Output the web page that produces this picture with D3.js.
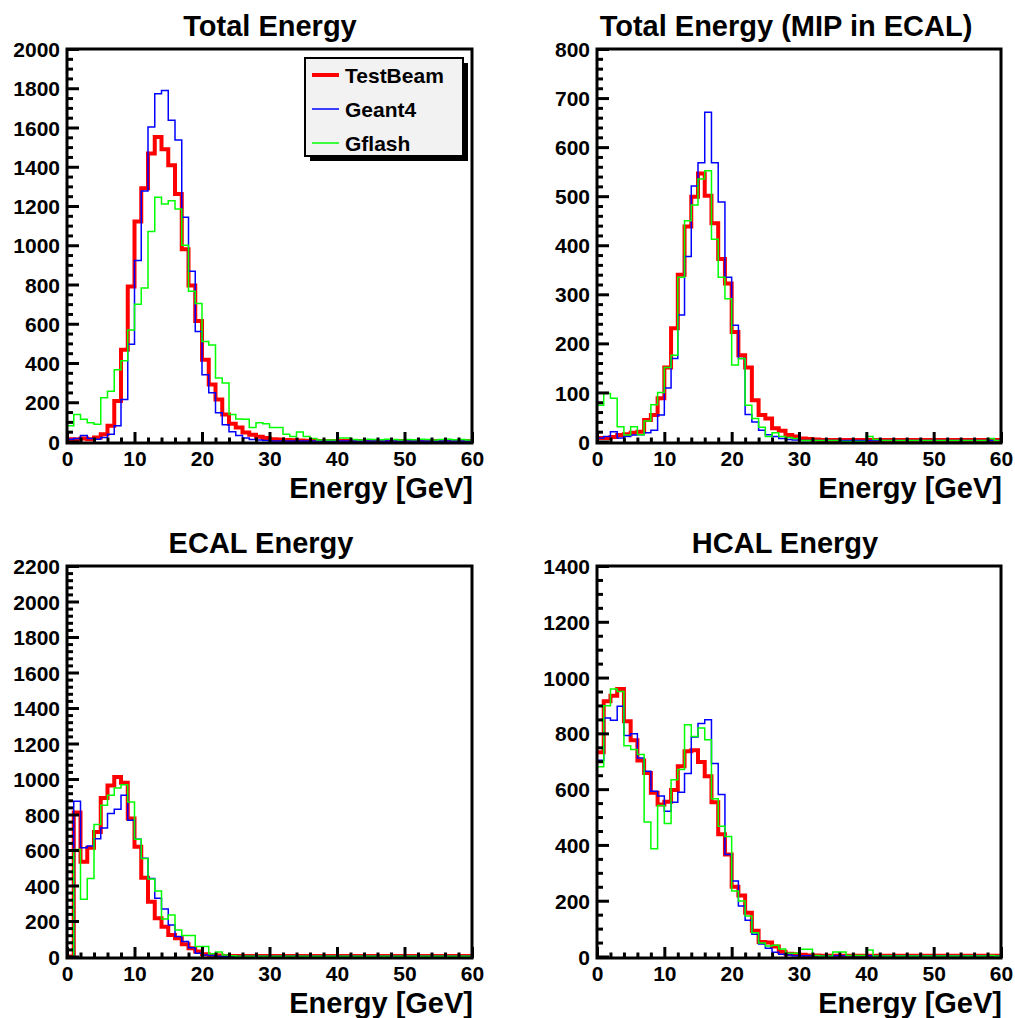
<!DOCTYPE html>
<html>
<head>
<meta charset="utf-8">
<script src="https://cdn.jsdelivr.net/npm/d3@7"></script>
<style>
  html, body { margin: 0; padding: 0; background: #fff; }
  svg text { font-family: "Liberation Sans", Arial, Helvetica, sans-serif; font-weight: bold; }
</style>
</head>
<body>
<svg id="chart" width="1015" height="1018"></svg>
<script>
// ---------- DATA (1 GeV bins, 0..60 GeV) ----------
const binEdges = d3.range(0, 61);
const seriesNames = ["TestBeam", "Geant4", "Gflash"];
const xTickLabels = [0, 10, 20, 30, 40, 50, 60];

const panelTitles = ["Total Energy", "Total Energy (MIP in ECAL)", "ECAL Energy", "HCAL Energy"];
const panelYMax = [2000, 800, 2200, 1400];
const panelYStep = [200, 100, 200, 200];
const panelYMinor = [50, 20, 40, 50];

// Panel 1: Total Energy
const testBeamTotal = [12,10,15,12,20,37,80,207,467,790,1121,1291,1468,1551,1489,1408,1261,979,795,614,417,290,214,138,90,71,46,34,24,18,12,10,8,6,5,4,4,3,3,3,3,3,3,3,3,3,3,3,3,3,3,3,3,3,3,3,3,3,3,3];
const geant4Total   = [12,15,30,15,12,20,37,80,214,495,922,1277,1603,1772,1789,1637,1536,1143,868,560,340,248,146,85,50,30,18,10,8,5,3,3,2,2,2,2,2,2,2,2,2,2,2,2,2,2,2,2,2,2,2,2,2,2,2,2,2,2,2,2];
const gflashTotal   = [80,137,113,96,88,223,256,366,411,568,700,782,1070,1244,1210,1227,1185,1000,766,703,509,492,324,298,138,115,113,71,96,90,71,71,37,25,49,25,15,8,8,8,18,18,10,8,12,10,9,11,10,8,10,9,12,10,8,10,11,9,10,8];

// Panel 2: Total Energy (MIP in ECAL)
const testBeamMip = [7,7,9,13,15,18,20,44,54,88,151,231,340,438,499,546,501,445,372,322,223,176,151,84,54,47,27,22,13,10,6,5,4,3,3,3,3,3,3,3,3,3,3,3,3,3,3,3,3,3,3,3,3,3,3,3,3,3,3,3];
const geant4Mip   = [7,10,20,7,10,13,14,18,23,54,109,169,258,377,521,568,671,568,488,335,237,169,55,40,23,14,10,6,4,3,2,2,2,2,2,2,2,2,2,2,2,2,2,2,2,2,2,2,2,2,2,2,2,2,2,2,2,2,2,2];
const gflashMip   = [74,98,88,30,13,30,14,42,75,100,151,176,335,450,482,535,552,412,335,291,156,169,74,47,29,10,18,10,8,6,2,2,2,2,2,2,0,0,0,0,10,4,2,2,2,2,2,2,2,2,2,2,2,2,2,2,2,2,6,2];

// Panel 3: ECAL Energy
const testBeamEcal = [0,811,534,612,702,893,964,1011,979,777,618,444,309,215,168,121,103,69,47,28,13,8,5,3,3,3,3,3,3,3,3,3,3,3,3,3,3,3,3,3,3,3,3,3,3,3,3,3,3,3,3,3,3,3,3,3,3,3,3,3];
const geant4Ecal   = [0,874,612,623,664,724,805,829,908,768,661,553,440,328,268,178,112,84,50,19,9,5,2,2,2,2,2,2,2,2,2,2,2,2,2,2,2,2,2,2,2,2,2,2,2,2,2,2,2,2,2,2,2,2,2,2,2,2,2,2];
const gflashEcal   = [0,603,323,440,744,852,908,949,968,871,661,552,436,369,211,234,150,118,118,56,56,15,26,8,4,2,2,2,2,2,2,2,2,2,2,2,2,2,2,2,2,2,2,2,2,2,2,2,2,2,2,2,2,2,2,2,2,2,2,2];

// Panel 4: HCAL Energy
const testBeamHcal = [732,915,935,959,843,775,703,658,587,545,555,597,682,736,739,697,646,553,438,366,250,219,157,92,52,50,36,17,10,8,6,4,4,3,3,3,3,3,3,3,3,3,3,3,3,3,3,3,3,3,3,3,3,3,3,3,3,3,3,3];
const geant4Hcal   = [704,855,847,897,792,799,712,664,592,575,521,553,589,656,787,835,849,692,581,366,271,181,130,80,45,30,15,8,5,3,3,3,3,3,3,3,3,3,3,3,3,3,3,3,3,3,3,3,3,3,3,3,3,3,3,3,3,3,3,3];
const gflashHcal   = [680,899,959,950,756,742,724,482,386,541,477,634,670,831,789,819,777,566,467,430,235,199,145,85,48,38,40,27,12,12,26,26,4,2,2,16,16,4,4,4,23,2,2,2,2,2,2,2,2,2,2,2,2,2,2,2,2,2,4,2];

const panelData = [
  [testBeamTotal, geant4Total, gflashTotal],
  [testBeamMip, geant4Mip, gflashMip],
  [testBeamEcal, geant4Ecal, gflashEcal],
  [testBeamHcal, geant4Hcal, gflashHcal]
];

// ---------- STYLE / LAYOUT ----------
const colors = ["#ff0000", "#0000ff", "#00ff00"];
const widths = [4, 1.5, 1.5];
const frames = [
  {l: 67,  r: 472,  t: 49,  b: 443, titleX: 270, titleY: 36},
  {l: 597, r: 1001, t: 49,  b: 443, titleX: 786, titleY: 36},
  {l: 67,  r: 472,  t: 566, b: 958, titleX: 261, titleY: 553},
  {l: 597, r: 1001, t: 566, b: 958, titleX: 785, titleY: 553}
];

const svg = d3.select("#chart");

frames.forEach((f, p) => {
  const g = svg.append("g");
  const x = d3.scaleLinear().domain([0, 60]).range([f.l, f.r]);
  const y = d3.scaleLinear().domain([0, panelYMax[p]]).range([f.b - 1.5, f.t]);

  // histograms
  const line = d3.line()
    .x(d => x(d[0]))
    .y(d => y(d[1]))
    .curve(d3.curveStepAfter);
  panelData[p].forEach((vals, s) => {
    const pts = binEdges.map((e, i) => [e, vals[Math.min(i, vals.length - 1)]]);
    g.append("path")
      .attr("d", line(pts))
      .attr("fill", "none")
      .attr("stroke", colors[s])
      .attr("stroke-width", widths[s])
      .attr("stroke-linejoin", "miter")
      .attr("stroke-linecap", "butt");
  });

  // frame
  g.append("rect")
    .attr("x", f.l).attr("y", f.t)
    .attr("width", f.r - f.l).attr("height", f.b - f.t)
    .attr("fill", "none").attr("stroke", "#000").attr("stroke-width", 3);

  // y axis: major with labels, minor ticks
  const yMajors = d3.range(0, panelYMax[p] + 1, panelYStep[p]);
  const yMinors = d3.range(0, panelYMax[p] + 1, panelYMinor[p]).filter(v => v % panelYStep[p] !== 0);
  const yAx = g.append("g").attr("transform", `translate(${f.l},0)`)
    .call(d3.axisLeft(y).tickValues(yMajors).tickSize(-12).tickPadding(7).tickFormat(d3.format("d")));
  yAx.select(".domain").remove();
  yAx.selectAll("line").attr("stroke", "#000").attr("stroke-width", 3);
  yAx.selectAll("text").attr("font-size", 21).attr("fill", "#000").attr("dy", "0.36em");
  const yMin = g.append("g").attr("transform", `translate(${f.l},0)`)
    .call(d3.axisLeft(y).tickValues(yMinors).tickSize(-6).tickFormat(""));
  yMin.select(".domain").remove();
  yMin.selectAll("line").attr("stroke", "#000").attr("stroke-width", 3);

  // x axis
  const xMinors = d3.range(0, 61, 2).filter(v => v % 10 !== 0);
  const xAx = g.append("g").attr("transform", `translate(0,${f.b})`)
    .call(d3.axisBottom(x).tickValues(xTickLabels).tickSize(-11).tickPadding(7).tickFormat(d3.format("d")));
  xAx.select(".domain").remove();
  xAx.selectAll("line").attr("stroke", "#000").attr("stroke-width", 3);
  xAx.selectAll("text").attr("font-size", 21).attr("fill", "#000").attr("dy", "0.78em");
  const xMin = g.append("g").attr("transform", `translate(0,${f.b})`)
    .call(d3.axisBottom(x).tickValues(xMinors).tickSize(-5.5).tickFormat(""));
  xMin.select(".domain").remove();
  xMin.selectAll("line").attr("stroke", "#000").attr("stroke-width", 3);

  // titles
  g.append("text").attr("x", f.titleX).attr("y", f.titleY)
    .attr("text-anchor", "middle").attr("font-size", 29).text(panelTitles[p]);
  g.append("text").attr("x", f.r + 1).attr("y", f.b + 55)
    .attr("text-anchor", "end").attr("font-size", 29).text("Energy [GeV]");
});

// legend (panel 1)
const leg = svg.append("g");
const lx = 305, ly = 58, lw = 158, lh = 98;
leg.append("rect").attr("x", lx + 5).attr("y", ly + 5).attr("width", lw).attr("height", lh).attr("fill", "#000");
leg.append("rect").attr("x", lx).attr("y", ly).attr("width", lw).attr("height", lh)
  .attr("fill", "#f2f2f2").attr("stroke", "#000").attr("stroke-width", 2);
seriesNames.forEach((n, i) => {
  const yy = ly + 17 + i * 34;
  leg.append("line").attr("x1", lx + 7).attr("x2", lx + 34).attr("y1", yy).attr("y2", yy)
    .attr("stroke", colors[i]).attr("stroke-width", widths[i]);
  leg.append("text").attr("x", lx + 40).attr("y", yy).attr("dy", "0.36em")
    .attr("font-size", 21).text(n);
});
</script>
</body>
</html>
